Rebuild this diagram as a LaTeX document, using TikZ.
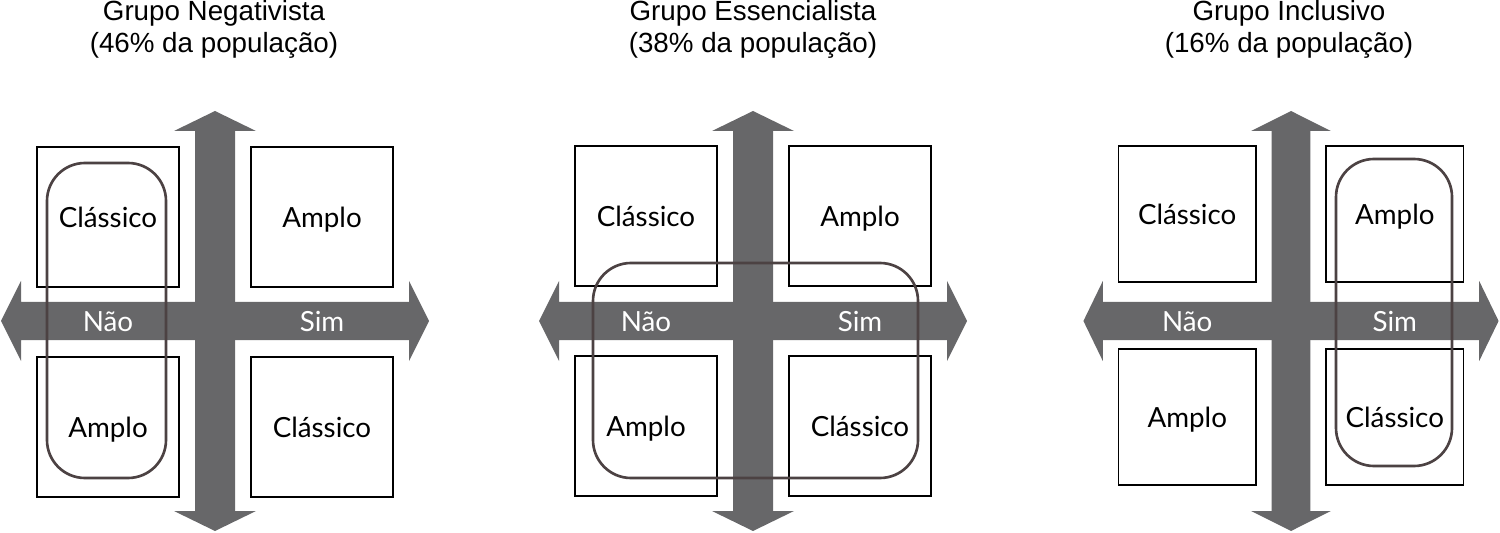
\documentclass[tikz,border=0pt]{standalone}
\usepackage{fontspec}
\setmainfont{Liberation Sans}
\newfontfamily\boxfont{Lato}
\usetikzlibrary{positioning,calc}

\definecolor{axisgray}{RGB}{103,103,105}
\definecolor{loopbrown}{RGB}{76,66,67}

\begin{document}
\begin{tikzpicture}[x=0.02cm, y=-0.02cm,
    quad/.style={draw, rectangle, line width=0.8pt, fill=white, text height=13.5pt, text depth=2pt, font=\boxfont\fontsize{15.8}{18}\selectfont},
    axis/.style={fill=axisgray, draw=none},
    axislabel/.style={text=white, text height=13.5pt, text depth=2pt, font=\boxfont\fontsize{15.8}{18}\selectfont},
    group/.style={draw=loopbrown, line width=1.5pt, rounded corners=0.76cm},
    title/.style={align=center, font=\fontsize{15.8}{18.2}\selectfont},
]
\useasboundingbox (0,0) rectangle (1500,533);

% Titles
\node[title] (t1) at (214,29) {Grupo Negativista\\(46\% da população)};
\node[title] (t2) at (753,29) {Grupo Essencialista\\(38\% da população)};
\node[title] (t3) at (1289,29) {Grupo Inclusivo\\(16\% da população)};

% Crosses with the four quadrants
\foreach \p/\cx/\s/\ty/\by in {1/215/1/-104/106, 2/753/1/-105/105, 3/1291/0.97/-107/96}{
  \begin{scope}[shift={(\cx,321)}, xscale=\s]
    \fill[axis] (-214,0) -- (-194,-40) -- (-194,-19) -- (194,-19) -- (194,-40) -- (214,0)
      -- (194,40) -- (194,19) -- (-194,19) -- (-194,40) -- cycle;
    \fill[axis] (0,-210) -- (41,-190) -- (20,-190) -- (20,190) -- (41,190) -- (0,210)
      -- (-41,190) -- (-20,190) -- (-20,-190) -- (-41,-190) -- cycle;
    \tikzset{quad/.append style={minimum width=\s*2.84cm, minimum height=\s*2.8cm}}
    \node[quad] (tl\p) at (-107,\ty) {Clássico};
    \node[quad] (tr\p) at (107,\ty) {Amplo};
    \node[quad] (bl\p) at (-107,\by) {Amplo};
    \node[quad] (br\p) at (107,\by) {Clássico};
    \node[axislabel] (nao\p) at (-107,0) {Não};
    \node[axislabel] (sim\p) at (107,0) {Sim};
  \end{scope}
}

% Groups
\draw[group] (47,163) rectangle (166,478);
\draw[group] (593,263) rectangle (918,478);
\draw[group] (1336,159) rectangle (1452,466);

\end{tikzpicture}
\end{document}
